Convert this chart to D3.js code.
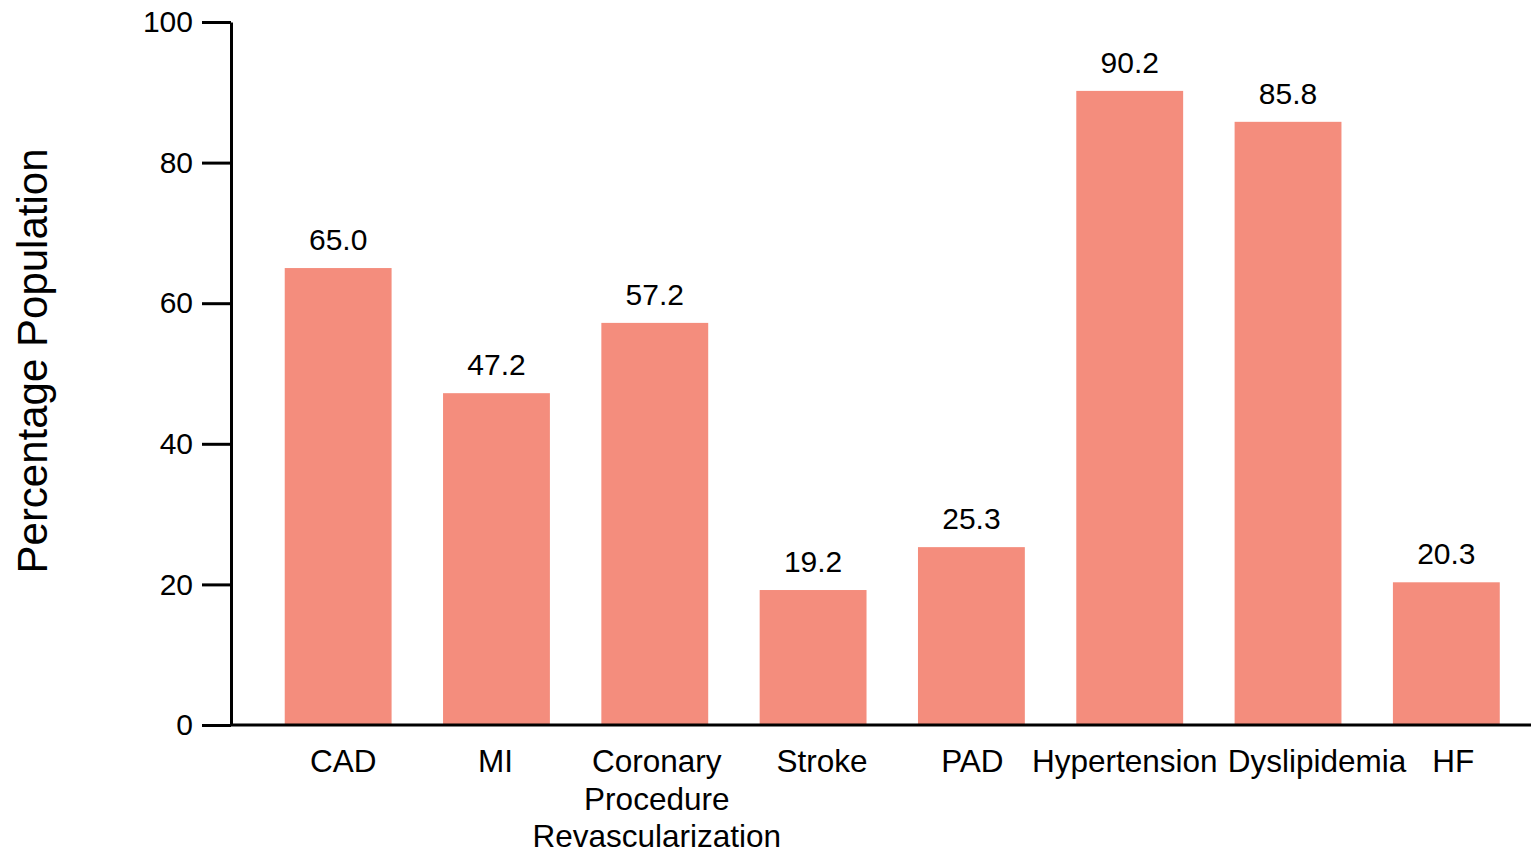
<!DOCTYPE html>
<html>
<head>
<meta charset="utf-8">
<script src="https://cdn.jsdelivr.net/npm/d3@7"></script>
<style>
  body { margin: 0; background: #fff; }
  svg { display: block; font-family: "Liberation Sans", Arial, sans-serif; }
</style>
</head>
<body>
<svg id="chart" width="1531" height="850"></svg>
<script>
// data
const categories = ["CAD", "MI", "Coronary\nProcedure\nRevascularization", "Stroke", "PAD", "Hypertension", "Dyslipidemia", "HF"];
const values = [65.0, 47.2, 57.2, 19.2, 25.3, 90.2, 85.8, 20.3];
const yTicks = [0, 20, 40, 60, 80, 100];
const yTitle = "Percentage Population";

// layout
const width = 1531, height = 850;
const axisX = 231, axisTop = 22, axisBottom = 725;
const BAR_COLOR = "#f48d7d";
// the original nudged a few category labels sideways so they don't collide
const labelShift = [5, -1, 2, 9, 1, -5, 29, 7];

const svg = d3.select("#chart");

const x = d3.scaleBand()
  .domain(categories)
  .range([259, 1525.5])
  .paddingInner(0.325)
  .paddingOuter(0.1625);

const y = d3.scaleLinear().domain([0, 100]).range([axisBottom, axisTop]);

// bars
svg.append("g")
  .selectAll("rect")
  .data(values)
  .join("rect")
  .attr("x", (d, i) => x(categories[i]))
  .attr("y", (d) => y(d))
  .attr("width", x.bandwidth())
  .attr("height", (d) => y(0) - y(d))
  .attr("fill", BAR_COLOR);

// value labels above bars
svg.append("g")
  .selectAll("text")
  .data(values)
  .join("text")
  .attr("x", (d, i) => x(categories[i]) + x.bandwidth() / 2)
  .attr("y", (d) => y(d) - 18)
  .attr("text-anchor", "middle")
  .style("font-size", "30px")
  .attr("fill", "#000")
  .text((d) => d.toFixed(1));

// y axis
const yAxis = svg.append("g")
  .attr("transform", "translate(" + axisX + ",0)")
  .call(d3.axisLeft(y).tickValues(yTicks).tickSize(29).tickSizeOuter(0).tickPadding(9));
yAxis.select(".domain").attr("stroke", "#000").attr("stroke-width", 3);
yAxis.selectAll(".tick line").attr("stroke", "#000").attr("stroke-width", 3);
yAxis.selectAll(".tick text")
  .style("font-size", "30px")
  .attr("fill", "#000")
  .attr("font-family", null);

// x axis line
svg.append("line")
  .attr("x1", axisX)
  .attr("x2", width)
  .attr("y1", y(0))
  .attr("y2", y(0))
  .attr("stroke", "#000")
  .attr("stroke-width", 3);

// category labels (multi-line)
const xl = svg.append("g")
  .selectAll("text")
  .data(categories)
  .join("text")
  .attr("x", (d, i) => x(d) + x.bandwidth() / 2 + labelShift[i])
  .attr("y", y(0) + 47)
  .attr("text-anchor", "middle")
  .style("font-size", "31.5px")
  .attr("fill", "#000");
xl.each(function (d) {
  const t = d3.select(this);
  const cx = t.attr("x");
  d.split("\n").forEach((line, j) => {
    t.append("tspan")
      .attr("x", cx)
      .attr("dy", j === 0 ? 0 : 37.5)
      .text(line);
  });
});

// y title
svg.append("text")
  .attr("transform", "translate(47,361) rotate(-90)")
  .attr("text-anchor", "middle")
  .style("font-size", "42px")
  .attr("fill", "#000")
  .text(yTitle);
</script>
</body>
</html>
